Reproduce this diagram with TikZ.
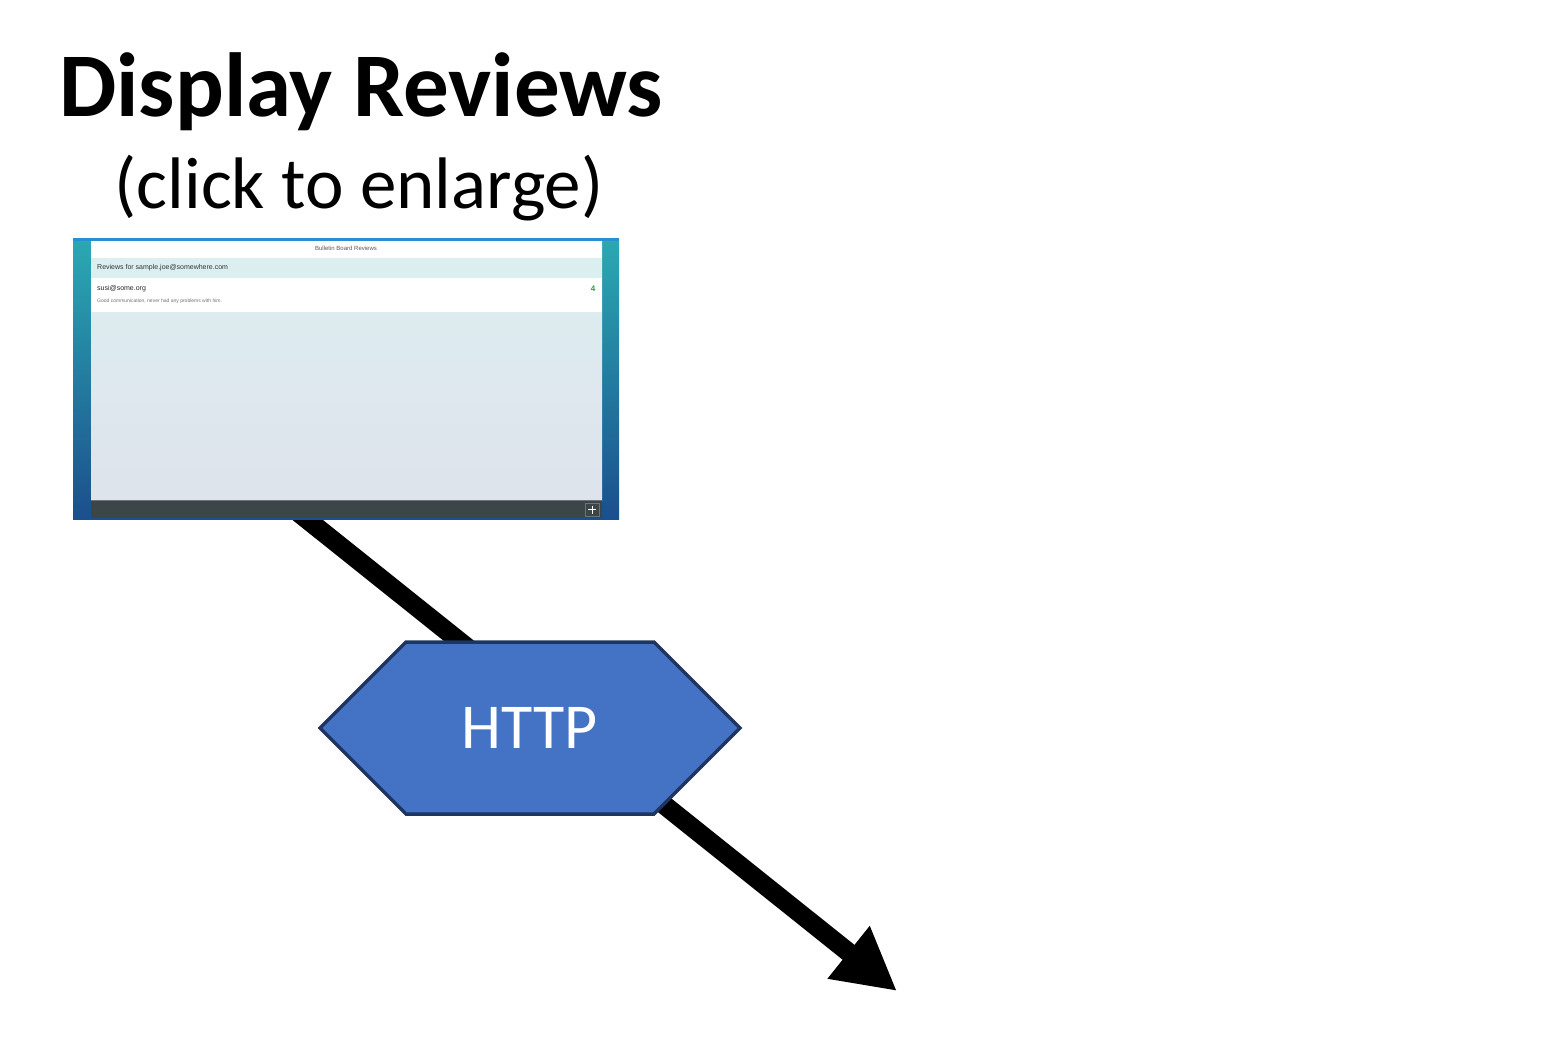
\documentclass[tikz,border=0pt]{standalone}
\usepackage{fontspec}
\setmainfont{Carlito}
\newfontfamily\uifont{Liberation Sans}
\usetikzlibrary{arrows.meta,shapes.symbols}

\definecolor{hexfill}{HTML}{4472C4}
\definecolor{hexline}{HTML}{1F3560}
\definecolor{sideTop}{HTML}{2BA9B2}
\definecolor{sideMid}{HTML}{1C8A9D}
\definecolor{sideBot}{HTML}{1B4F8D}
\definecolor{topbar}{HTML}{2A8FD2}
\definecolor{paneTop}{HTML}{DDEFF1}
\definecolor{paneBot}{HTML}{DEE3EC}
\definecolor{rowcyan}{HTML}{DCEFF0}
\definecolor{footbar}{HTML}{3C4548}
\definecolor{footline}{HTML}{6B7478}
\definecolor{scoregreen}{HTML}{2E9A4E}

\tikzset{
  title/.style={anchor=base, inner sep=0, font=\fontsize{91}{96}\selectfont\bfseries},
  subtitle/.style={anchor=base, inner sep=0, font=\fontsize{73}{78}\selectfont},
  hexbox/.style={signal, signal to=west and east, signal pointer angle=90,
    minimum width=420pt, minimum height=172pt, inner sep=0,
    fill=hexfill, draw=hexline, line width=3.5pt,
    text=white, font=\fontsize{64}{70}\selectfont},
  flow/.style={line width=19pt, -{Triangle[length=62pt,width=63pt]}},
  uitext/.style={inner sep=0, font=\uifont\fontsize{#1}{#1}\selectfont},
}

\begin{document}
\begin{tikzpicture}[x=1pt,y=-1pt]
\useasboundingbox (0,0) rectangle (1549,1058);

% end points of the flow arrow
\coordinate (start) at (289,505);
\coordinate (tip) at (897,991);
\draw[flow] (start) -- (tip);

% heading
\node[title] (head) at (361,116) {Display Reviews};
\node[subtitle] (sub) at (359,208) {(click to enlarge)};

% app screenshot
\node[minimum width=546pt, minimum height=281pt, inner sep=0,
      top color=sideTop, middle color=sideMid, bottom color=sideBot] (shot) at (346,378.5) {};
\fill[topbar] (73,238) rectangle (619,241);
\fill[top color=paneTop, bottom color=paneBot] (91,241) rectangle (602,500);
\fill[white] (91,241) rectangle (602,258);
\fill[rowcyan] (91,258) rectangle (602,278);
\fill[white] (91,278) rectangle (602,312);
\node[uitext=6, text=black!65] (apptitle) at (346,248.5) {Bulletin Board Reviews};
\node[uitext=7, text=black!80, anchor=west] (revfor) at (97,268) {Reviews for sample.joe@somewhere.com};
\node[uitext=7, text=black!85, anchor=west] (author) at (97,289) {susi@some.org};
\node[uitext=5, text=black!55, anchor=west] (comment) at (97,301) {Good communication, never had any problems with him.};
\node[uitext=8, text=scoregreen, font=\uifont\bfseries\fontsize{8}{8}\selectfont] (score) at (593,289) {4};
\fill[footbar] (91,500) rectangle (602,518);
\draw[footline, line width=1pt] (91,500.5) -- (602,500.5);
\draw[footline, line width=0.8pt] (585.5,503) rectangle (599,516);
\draw[white, line width=1pt] (592.2,505.5) -- (592.2,513.5) (588.2,509.5) -- (596.2,509.5);

% protocol label
\node[hexbox] (http) at (530,728) {HTTP};
\end{tikzpicture}
\end{document}
